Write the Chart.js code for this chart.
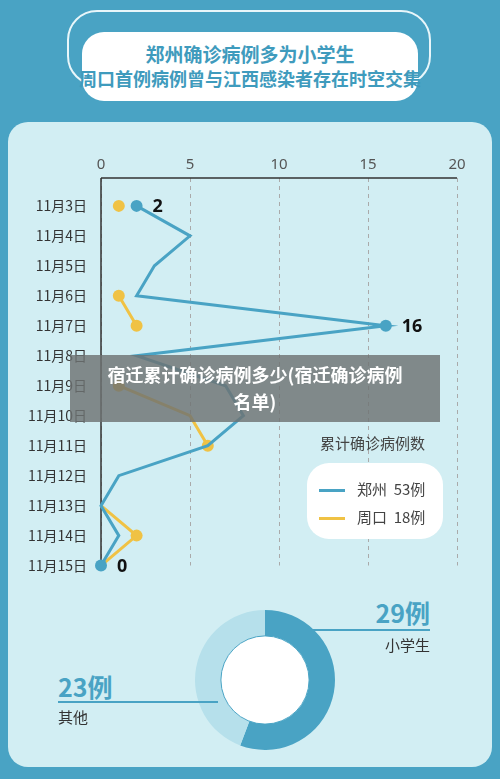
<!DOCTYPE html>
<html><head><meta charset="utf-8">
<script src="https://cdn.jsdelivr.net/npm/chart.js@4"></script>
<style>
body{margin:0;width:500px;height:779px;background:#49a3c4;position:relative;overflow:hidden;font-family:"Noto Sans CJK SC","Noto Sans",sans-serif}
.abs{position:absolute}
#outline{left:67px;top:10px;width:364px;height:76px;border:2px solid #e8f6fa;border-radius:30px;box-sizing:border-box}
#title{left:82px;top:32px;width:336px;height:69px;background:#fff;border-radius:22px;color:#3f9bbd;font-weight:bold;text-align:center;font-size:19px;line-height:25px;padding-top:9px;box-sizing:border-box}
#title div:last-child{font-size:18px;margin-left:-10px;margin-right:-10px}
#panel{left:8px;top:122px;width:484px;height:645px;background:#d2eef3;border-radius:20px}
#legtitle{left:320px;top:432px;font-size:15px;color:#444}
#leg{left:307px;top:463px;width:136px;height:76px;background:#fff;border-radius:22px;font-size:15px;color:#444}
#leg div{position:absolute;left:12px}
#leg span{display:inline-block;width:26px;height:3px;margin-right:12px;vertical-align:middle}
#banner{left:70px;top:355px;width:370px;height:67px;background:rgba(110,115,115,0.82);color:#fff;font-weight:bold;font-size:18px;text-align:center;line-height:27px;padding-top:6px;box-sizing:border-box}
.big{font-size:25px;font-weight:bold;color:#49a3c4}
.sm{font-size:15px;color:#333}
.hl{height:1.5px;background:#49a3c4}
</style></head><body>
<div class="abs" id="outline"></div>
<div class="abs" id="title"><div>郑州确诊病例多为小学生</div><div>周口首例病例曾与江西感染者存在时空交集</div></div>
<div class="abs" id="panel"></div>
<canvas class="abs" id="c" style="left:20px;top:140px;width:450px;height:440px" width="450" height="440"></canvas>
<div class="abs" id="legtitle">累计确诊病例数</div>
<div class="abs" id="leg">
 <div style="top:15px"><span style="background:#49a3c4"></span>郑州&nbsp; 53例</div>
 <div style="top:43px"><span style="background:#f0c244"></span>周口&nbsp; 18例</div>
</div>
<canvas class="abs" id="d" style="left:195px;top:610px;width:140px;height:140px" width="140" height="140"></canvas>
<div class="abs big" style="right:70px;top:594px">29例</div>
<div class="abs hl" style="left:310px;top:629px;width:120px"></div>
<div class="abs sm" style="right:70px;top:634px">小学生</div>
<div class="abs big" style="left:58px;top:668px">23例</div>
<div class="abs hl" style="left:58px;top:701px;width:160px"></div>
<div class="abs sm" style="left:58px;top:706px">其他</div>
<div class="abs" id="banner">宿迁累计确诊病例多少(宿迁确诊病例<br>名单)</div>
<script>
const dates = ['11月3日','11月4日','11月5日','11月6日','11月7日','11月8日','11月9日','11月10日','11月11日','11月12日','11月13日','11月14日','11月15日'];
const zhengzhou = [2,5,3,2,16,2,7,8,6,1,0,1,0];
const zhoukou = [1,null,null,1,2,null,1,5,6,null,0,2,0];
const xTicks = [0,5,10,15,20];
const pieLabels = ['小学生','其他'];
const pieValues = [29,23];
const labelIdx = [0,4,12];
const blueDots = [0,4,12];
const yellowDots = [0,3,4,6,8,11];

const BLUE = '#49a3c4', YEL = '#f0c244';
const toPts = arr => arr.map((v,i) => ({x:v,y:i}));

const overlay = {
  id:'overlay',
  beforeDatasetsDraw(chart){
    const ctx = chart.ctx, a = chart.chartArea;
    ctx.save();
    ctx.strokeStyle = '#333'; ctx.lineWidth = 1.5;
    ctx.beginPath();
    ctx.moveTo(a.left, a.top); ctx.lineTo(a.right, a.top);
    ctx.moveTo(a.left, a.top); ctx.lineTo(a.left, a.bottom);
    ctx.stroke();
    ctx.restore();
  },
  afterDatasetsDraw(chart){
    const ctx = chart.ctx, meta = chart.getDatasetMeta(0);
    ctx.save();
    ctx.font = 'bold 18px "Noto Sans", sans-serif';
    ctx.fillStyle = '#111';
    ctx.textBaseline = 'middle';
    labelIdx.forEach(i => {
      const p = meta.data[i];
      ctx.fillText(String(zhengzhou[i]), p.x + 16, p.y + 1);
    });
    ctx.restore();
  }
};

new Chart(document.getElementById('c'), {
  type:'line',
  data:{datasets:[
    {data:toPts(zhengzhou),borderColor:BLUE,backgroundColor:BLUE,borderWidth:3,pointRadius:zhengzhou.map((v,i)=>blueDots.includes(i)?6:0),pointBorderWidth:0,spanGaps:false,clip:false,order:1},
    {data:toPts(zhoukou),borderColor:YEL,backgroundColor:YEL,borderWidth:3,pointRadius:zhoukou.map((v,i)=>yellowDots.includes(i)?6:0),pointBorderWidth:0,spanGaps:false,clip:false,order:2}
  ]},
  options:{
    responsive:false,animation:false,
    layout:{padding:{right:13,bottom:12}},
    plugins:{legend:{display:false},tooltip:{enabled:false}},
    scales:{
      x:{type:'linear',position:'top',min:0,max:20,
        afterFit:s=>{s.height=38;},
        afterBuildTicks:s=>{s.ticks=xTicks.map(v=>({value:v}));},
        ticks:{color:'#555',font:{size:15,family:'"Noto Sans", sans-serif'},padding:4},
        grid:{color:'#aaa',drawTicks:false,tickLength:0},
        border:{display:false,dash:[4,4]}
      },
      y:{type:'linear',reverse:true,min:-0.93,max:12,
        afterFit:s=>{s.width=81;},
        afterBuildTicks:s=>{s.ticks=dates.map((d,i)=>({value:i}));},
        ticks:{callback:v=>dates[v],color:'#333',font:{size:14,family:'"Noto Sans CJK SC", sans-serif'},padding:6},
        grid:{display:false},
        border:{display:false}
      }
    }
  },
  plugins:[overlay]
});

new Chart(document.getElementById('d'), {
  type:'doughnut',
  data:{labels:pieLabels,datasets:[{data:pieValues,backgroundColor:[BLUE,'#b6e0eb'],borderWidth:0}]},
  options:{responsive:false,animation:false,cutout:'63%',plugins:{legend:{display:false},tooltip:{enabled:false}}},
  plugins:[{id:'hole',afterDraw(c){const m=c.getDatasetMeta(0).data[0],ctx=c.ctx;ctx.save();ctx.beginPath();ctx.arc(m.x,m.y,m.innerRadius,0,Math.PI*2);ctx.fillStyle='#fff';ctx.fill();ctx.strokeStyle=BLUE;ctx.lineWidth=1;ctx.stroke();ctx.restore();}}]
});
</script>
</body></html>
